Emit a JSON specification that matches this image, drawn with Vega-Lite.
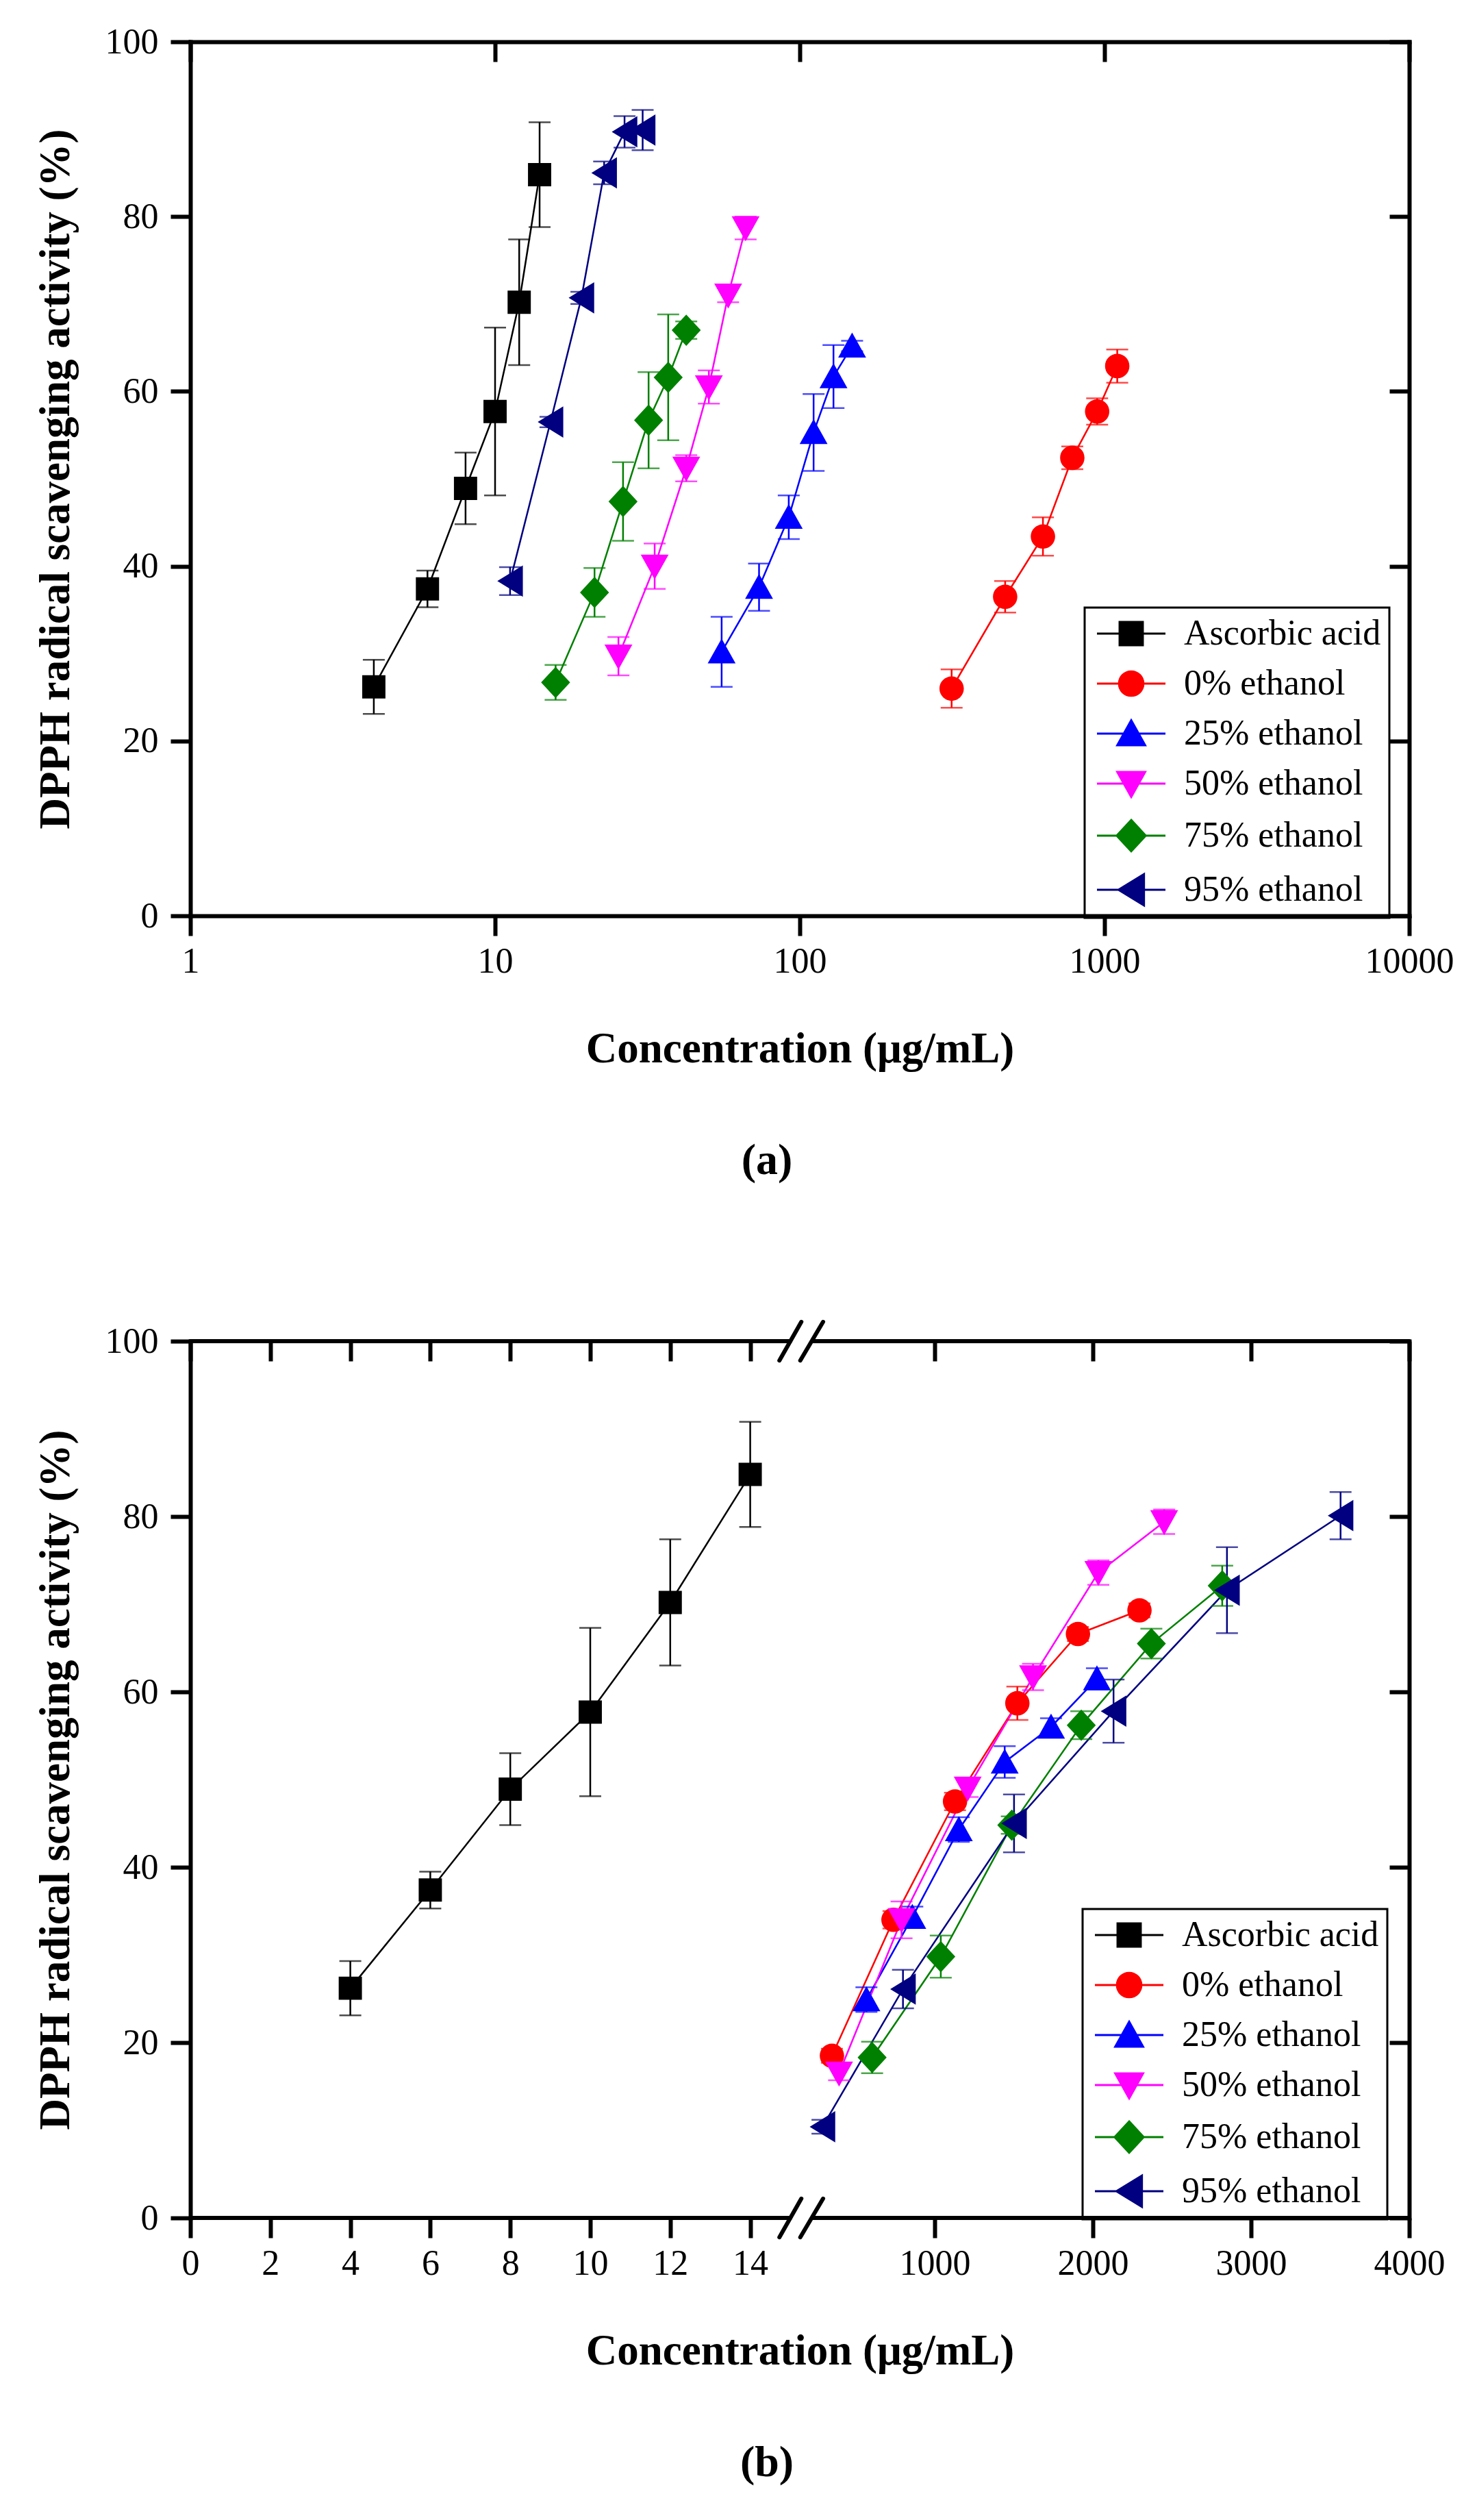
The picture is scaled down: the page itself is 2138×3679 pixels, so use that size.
{
  "$schema": "https://vega.github.io/schema/vega-lite/v6.json",
  "description": "DPPH radical scavenging activity of ascorbic acid and ethanol extracts, log and broken-axis views.",
  "padding": {"left": 50, "top": 35, "right": 10, "bottom": 10},
  "background": "white",
  "datasets": {
    "a": [
      {"s": "Ascorbic acid", "x": 4, "y": 26.2, "lo": 23.1, "hi": 29.3},
      {"s": "Ascorbic acid", "x": 6, "y": 37.4, "lo": 35.3, "hi": 39.5},
      {"s": "Ascorbic acid", "x": 8, "y": 48.9, "lo": 44.8, "hi": 53.0},
      {"s": "Ascorbic acid", "x": 10, "y": 57.7, "lo": 48.1, "hi": 67.3},
      {"s": "Ascorbic acid", "x": 12, "y": 70.2, "lo": 63.0, "hi": 77.4},
      {"s": "Ascorbic acid", "x": 14, "y": 84.8, "lo": 78.8, "hi": 90.8},
      {"s": "0% ethanol", "x": 315, "y": 26.0, "lo": 23.8, "hi": 28.2},
      {"s": "0% ethanol", "x": 472, "y": 36.5, "lo": 34.7, "hi": 38.3},
      {"s": "0% ethanol", "x": 628, "y": 43.4, "lo": 41.2, "hi": 45.6},
      {"s": "0% ethanol", "x": 784, "y": 52.4, "lo": 51.1, "hi": 53.7},
      {"s": "0% ethanol", "x": 946, "y": 57.7, "lo": 56.2, "hi": 59.2},
      {"s": "0% ethanol", "x": 1101, "y": 62.9, "lo": 61.0, "hi": 64.8},
      {"s": "25% ethanol", "x": 55.4, "y": 30.2, "lo": 26.2, "hi": 34.2},
      {"s": "25% ethanol", "x": 73.5, "y": 37.6, "lo": 34.9, "hi": 40.3},
      {"s": "25% ethanol", "x": 92, "y": 45.6, "lo": 43.1, "hi": 48.1},
      {"s": "25% ethanol", "x": 111, "y": 55.3, "lo": 50.9, "hi": 59.7},
      {"s": "25% ethanol", "x": 129, "y": 61.7, "lo": 58.1, "hi": 65.3},
      {"s": "25% ethanol", "x": 148.5, "y": 65.2, "lo": 64.6, "hi": 65.8},
      {"s": "50% ethanol", "x": 25.4, "y": 29.7, "lo": 27.5, "hi": 31.9},
      {"s": "50% ethanol", "x": 33.4, "y": 40.0, "lo": 37.4, "hi": 42.6},
      {"s": "50% ethanol", "x": 42.4, "y": 51.2, "lo": 49.7, "hi": 52.7},
      {"s": "50% ethanol", "x": 50.3, "y": 60.5, "lo": 58.6, "hi": 62.4},
      {"s": "50% ethanol", "x": 58.2, "y": 71.0, "lo": 70.2, "hi": 71.8},
      {"s": "50% ethanol", "x": 66.4, "y": 78.7, "lo": 77.4, "hi": 80.0},
      {"s": "75% ethanol", "x": 15.8, "y": 26.7, "lo": 24.7, "hi": 28.7},
      {"s": "75% ethanol", "x": 21.2, "y": 37.0, "lo": 34.2, "hi": 39.8},
      {"s": "75% ethanol", "x": 26.3, "y": 47.4, "lo": 42.9, "hi": 51.9},
      {"s": "75% ethanol", "x": 31.9, "y": 56.7, "lo": 51.2, "hi": 62.2},
      {"s": "75% ethanol", "x": 37.0, "y": 61.6, "lo": 54.4, "hi": 68.8},
      {"s": "75% ethanol", "x": 42.4, "y": 67.0, "lo": 66.0, "hi": 68.0},
      {"s": "95% ethanol", "x": 11.2, "y": 38.3, "lo": 36.7, "hi": 39.9},
      {"s": "95% ethanol", "x": 15.2, "y": 56.5, "lo": 55.9, "hi": 57.1},
      {"s": "95% ethanol", "x": 19.2, "y": 70.7, "lo": 70.0, "hi": 71.4},
      {"s": "95% ethanol", "x": 22.8, "y": 85.0, "lo": 83.7, "hi": 86.3},
      {"s": "95% ethanol", "x": 26.6, "y": 89.7, "lo": 87.9, "hi": 91.5},
      {"s": "95% ethanol", "x": 30.5, "y": 89.9, "lo": 87.6, "hi": 92.2}
    ],
    "b": [
      {"s": "Ascorbic acid", "x": 4, "y": 26.2, "lo": 23.1, "hi": 29.3},
      {"s": "Ascorbic acid", "x": 6, "y": 37.4, "lo": 35.3, "hi": 39.5},
      {"s": "Ascorbic acid", "x": 8, "y": 48.9, "lo": 44.8, "hi": 53.0},
      {"s": "Ascorbic acid", "x": 10, "y": 57.7, "lo": 48.1, "hi": 67.3},
      {"s": "Ascorbic acid", "x": 12, "y": 70.2, "lo": 63.0, "hi": 77.4},
      {"s": "Ascorbic acid", "x": 14, "y": 84.8, "lo": 78.8, "hi": 90.8},
      {"s": "0% ethanol", "x": 351, "y": 18.5, "lo": 17.7, "hi": 19.3},
      {"s": "0% ethanol", "x": 740, "y": 34.0, "lo": 33.0, "hi": 35.0},
      {"s": "0% ethanol", "x": 1129, "y": 47.5, "lo": 46.5, "hi": 48.5},
      {"s": "0% ethanol", "x": 1523, "y": 58.7, "lo": 56.8, "hi": 60.6},
      {"s": "0% ethanol", "x": 1906, "y": 66.6, "lo": 65.8, "hi": 67.4},
      {"s": "0% ethanol", "x": 2295, "y": 69.3, "lo": 68.5, "hi": 70.1},
      {"s": "25% ethanol", "x": 569, "y": 24.9, "lo": 23.5, "hi": 26.3},
      {"s": "25% ethanol", "x": 859, "y": 34.3, "lo": 33.1, "hi": 35.5},
      {"s": "25% ethanol", "x": 1153, "y": 44.3, "lo": 42.9, "hi": 45.7},
      {"s": "25% ethanol", "x": 1443, "y": 52.0, "lo": 50.2, "hi": 53.8},
      {"s": "25% ethanol", "x": 1736, "y": 56.0, "lo": 55.0, "hi": 57.0},
      {"s": "25% ethanol", "x": 2026, "y": 61.5, "lo": 60.3, "hi": 62.7},
      {"s": "50% ethanol", "x": 396, "y": 16.5, "lo": 15.7, "hi": 17.3},
      {"s": "50% ethanol", "x": 791, "y": 34.0, "lo": 31.9, "hi": 36.1},
      {"s": "50% ethanol", "x": 1209, "y": 49.0, "lo": 48.0, "hi": 50.0},
      {"s": "50% ethanol", "x": 1622, "y": 61.7, "lo": 60.2, "hi": 63.2},
      {"s": "50% ethanol", "x": 2035, "y": 73.6, "lo": 72.2, "hi": 75.0},
      {"s": "50% ethanol", "x": 2451, "y": 79.4, "lo": 78.0, "hi": 80.8},
      {"s": "75% ethanol", "x": 605, "y": 18.3, "lo": 16.5, "hi": 20.1},
      {"s": "75% ethanol", "x": 1039, "y": 29.8, "lo": 27.4, "hi": 32.2},
      {"s": "75% ethanol", "x": 1488, "y": 44.8, "lo": 43.8, "hi": 45.8},
      {"s": "75% ethanol", "x": 1927, "y": 56.2, "lo": 54.6, "hi": 57.8},
      {"s": "75% ethanol", "x": 2370, "y": 65.5, "lo": 63.8, "hi": 67.2},
      {"s": "75% ethanol", "x": 2818, "y": 72.1, "lo": 69.8, "hi": 74.4},
      {"s": "95% ethanol", "x": 291, "y": 10.4, "lo": 9.6, "hi": 11.2},
      {"s": "95% ethanol", "x": 800, "y": 26.1, "lo": 23.9, "hi": 28.3},
      {"s": "95% ethanol", "x": 1502, "y": 45.0, "lo": 41.7, "hi": 48.3},
      {"s": "95% ethanol", "x": 2131, "y": 57.8, "lo": 54.2, "hi": 61.4},
      {"s": "95% ethanol", "x": 2848, "y": 71.6, "lo": 66.7, "hi": 76.5},
      {"s": "95% ethanol", "x": 3566, "y": 80.1, "lo": 77.4, "hi": 82.8}
    ],
    "brk": [
      {"x": 0, "x2": 15, "y": 0, "y2": 0},
      {"x": 230, "x2": 4000, "y": 0, "y2": 0},
      {"x": 0, "x2": 15, "y": 100, "y2": 100},
      {"x": 230, "x2": 4000, "y": 100, "y2": 100},
      {"x": 14.73, "x2": 121, "y": -2.2, "y2": 2.2},
      {"x": 110.8, "x2": 295, "y": -2.2, "y2": 2.2},
      {"x": 14.73, "x2": 121, "y": 97.8, "y2": 102.2},
      {"x": 110.8, "x2": 295, "y": 97.8, "y2": 102.2}
    ]
  },
  "vconcat": [
    {
      "width": 1780,
      "height": 1276,
      "data": {"name": "a"},
      "title": {"text": "(a)", "orient": "bottom", "offset": 100, "frame": "group", "dx": -48},
      "layer": [
        {
          "mark": {"type": "line", "strokeWidth": 2.5},
          "encoding": {
            "x": {"field": "x", "type": "quantitative", "scale": {"type": "log", "domain": [1, 10000], "nice": false}, "axis": null},
            "y": {"field": "y", "type": "quantitative", "scale": {"domain": [0, 100], "nice": false}, "axis": null},
            "color": {"field": "s", "type": "nominal",
              "scale": {"domain": ["Ascorbic acid", "0% ethanol", "25% ethanol", "50% ethanol", "75% ethanol", "95% ethanol"],
                        "range": ["#000000", "#ff0000", "#0000ff", "#ff00ff", "#008000", "#000080"]}}
          }
        },
        {
          "mark": {"type": "errorbar", "ticks": {"size": 32}, "thickness": 2.5},
          "encoding": {
            "x": {"field": "x", "type": "quantitative", "scale": {"type": "log", "domain": [1, 10000], "nice": false}, "axis": null},
            "y": {"field": "lo", "type": "quantitative", "scale": {"domain": [0, 100], "nice": false}, "axis": null},
            "y2": {"field": "hi"},
            "color": {"field": "s", "type": "nominal",
              "scale": {"domain": ["Ascorbic acid", "0% ethanol", "25% ethanol", "50% ethanol", "75% ethanol", "95% ethanol"],
                        "range": ["#000000", "#ff0000", "#0000ff", "#ff00ff", "#008000", "#000080"]}}
          }
        },
        {
          "mark": {"type": "point", "filled": true, "opacity": 1, "size": 1150},
          "encoding": {
            "x": {"field": "x", "type": "quantitative", "scale": {"type": "log", "domain": [1, 10000], "nice": false},
                  "axis": {"orient": "bottom", "values": [1, 10, 100, 1000, 10000], "format": "d", "title": "Concentration (μg/mL)", "labelPadding": 12, "titlePadding": 71}},
            "y": {"field": "y", "type": "quantitative", "scale": {"domain": [0, 100], "nice": false},
                  "axis": {"orient": "left", "values": [0, 20, 40, 60, 80, 100], "format": "d", "title": "DPPH radical scavenging activity (%)", "labelPadding": 18, "titlePadding": 40}},
            "color": {"field": "s", "type": "nominal",
              "scale": {"domain": ["Ascorbic acid", "0% ethanol", "25% ethanol", "50% ethanol", "75% ethanol", "95% ethanol"],
                        "range": ["#000000", "#ff0000", "#0000ff", "#ff00ff", "#008000", "#000080"]},
              "legend": {"title": null, "orient": "none", "legendX": 1306, "legendY": 826,
                "encoding": {
                  "symbols": {
                    "stroke": {"value": {"expr": "datum.value === 'Ascorbic acid' ? '#000000' : datum.value === '0% ethanol' ? '#ff0000' : datum.value === '25% ethanol' ? '#0000ff' : datum.value === '50% ethanol' ? '#ff00ff' : datum.value === '75% ethanol' ? '#008000' : '#000080'"}},
                    "strokeWidth": {"value": 3}
                  },
                  "legend": {"strokeWidth": {"value": 3}}
                }}},
            "shape": {"field": "s", "type": "nominal",
              "scale": {"domain": ["Ascorbic acid", "0% ethanol", "25% ethanol", "50% ethanol", "75% ethanol", "95% ethanol"],
                        "range": ["M-1,-1H1V1H-1ZM-2.95,0H2.95",
                                  "M-1.05,0A1.05,1.05,0,1,1,1.05,0A1.05,1.05,0,1,1,-1.05,0ZM-2.95,0H2.95",
                                  "M0,-1.15L1.2,1H-1.2ZM-2.95,0H2.95",
                                  "M0,1.15L1.2,-1H-1.2ZM-2.95,0H2.95",
                                  "M0,-1.35L1.25,0L0,1.35L-1.25,0ZM-2.95,0H2.95",
                                  "M-1.1,0L1.1,-1.35V1.35ZM-2.95,0H2.95"]}}
          }
        },
        {
          "mark": {"type": "point", "opacity": 0},
          "encoding": {
            "x": {"field": "x", "type": "quantitative", "scale": {"type": "log", "domain": [1, 10000], "nice": false},
                  "axis": {"orient": "top", "values": [1, 10, 100, 1000, 10000], "labels": false, "tickSize": -29, "title": null}},
            "y": {"field": "y", "type": "quantitative", "scale": {"domain": [0, 100], "nice": false},
                  "axis": {"orient": "right", "values": [0, 20, 40, 60, 80, 100], "labels": false, "tickSize": -29, "title": null}}
          }
        }
      ]
    },
    {
      "width": 1780,
      "height": 1280,
      "data": {"name": "b"},
      "title": {"text": "(b)", "orient": "bottom", "offset": 100, "frame": "group", "dx": -48},
      "layer": [
        {
          "data": {"name": "brk"},
          "mark": {"type": "rule", "strokeWidth": 6, "strokeCap": "round", "color": "black"},
          "encoding": {
            "x": {"field": "x", "type": "quantitative", "scale": {"type": "linear", "domain": [0, 15, 230, 4000], "range": [0, 876, 909, 1780], "nice": false, "zero": false}, "axis": null},
            "x2": {"field": "x2"},
            "y": {"field": "y", "type": "quantitative", "scale": {"domain": [0, 100], "nice": false}, "axis": null},
            "y2": {"field": "y2"}
          }
        },
        {
          "mark": {"type": "line", "strokeWidth": 2.5},
          "encoding": {
            "x": {"field": "x", "type": "quantitative", "scale": {"type": "linear", "domain": [0, 15, 230, 4000], "range": [0, 876, 909, 1780], "nice": false, "zero": false}, "axis": null},
            "y": {"field": "y", "type": "quantitative", "scale": {"domain": [0, 100], "nice": false}, "axis": null},
            "color": {"field": "s", "type": "nominal",
              "scale": {"domain": ["Ascorbic acid", "0% ethanol", "25% ethanol", "50% ethanol", "75% ethanol", "95% ethanol"],
                        "range": ["#000000", "#ff0000", "#0000ff", "#ff00ff", "#008000", "#000080"]}}
          }
        },
        {
          "mark": {"type": "errorbar", "ticks": {"size": 32}, "thickness": 2.5},
          "encoding": {
            "x": {"field": "x", "type": "quantitative", "scale": {"type": "linear", "domain": [0, 15, 230, 4000], "range": [0, 876, 909, 1780], "nice": false, "zero": false}, "axis": null},
            "y": {"field": "lo", "type": "quantitative", "scale": {"domain": [0, 100], "nice": false}, "axis": null},
            "y2": {"field": "hi"},
            "color": {"field": "s", "type": "nominal",
              "scale": {"domain": ["Ascorbic acid", "0% ethanol", "25% ethanol", "50% ethanol", "75% ethanol", "95% ethanol"],
                        "range": ["#000000", "#ff0000", "#0000ff", "#ff00ff", "#008000", "#000080"]}}
          }
        },
        {
          "mark": {"type": "point", "filled": true, "opacity": 1, "size": 1150},
          "encoding": {
            "x": {"field": "x", "type": "quantitative", "scale": {"type": "linear", "domain": [0, 15, 230, 4000], "range": [0, 876, 909, 1780], "nice": false, "zero": false},
                  "axis": {"orient": "bottom", "values": [0, 2, 4, 6, 8, 10, 12, 14, 1000, 2000, 3000, 4000], "format": "d", "domain": false, "title": "Concentration (μg/mL)", "labelPadding": 12, "titlePadding": 71}},
            "y": {"field": "y", "type": "quantitative", "scale": {"domain": [0, 100], "nice": false},
                  "axis": {"orient": "left", "values": [0, 20, 40, 60, 80, 100], "format": "d", "title": "DPPH radical scavenging activity (%)", "labelPadding": 18, "titlePadding": 40}},
            "color": {"field": "s", "type": "nominal",
              "scale": {"domain": ["Ascorbic acid", "0% ethanol", "25% ethanol", "50% ethanol", "75% ethanol", "95% ethanol"],
                        "range": ["#000000", "#ff0000", "#0000ff", "#ff00ff", "#008000", "#000080"]},
              "legend": {"title": null, "orient": "none", "legendX": 1303, "legendY": 829,
                "encoding": {
                  "symbols": {
                    "stroke": {"value": {"expr": "datum.value === 'Ascorbic acid' ? '#000000' : datum.value === '0% ethanol' ? '#ff0000' : datum.value === '25% ethanol' ? '#0000ff' : datum.value === '50% ethanol' ? '#ff00ff' : datum.value === '75% ethanol' ? '#008000' : '#000080'"}},
                    "strokeWidth": {"value": 3}
                  },
                  "legend": {"strokeWidth": {"value": 3}}
                }}},
            "shape": {"field": "s", "type": "nominal",
              "scale": {"domain": ["Ascorbic acid", "0% ethanol", "25% ethanol", "50% ethanol", "75% ethanol", "95% ethanol"],
                        "range": ["M-1,-1H1V1H-1ZM-2.95,0H2.95",
                                  "M-1.05,0A1.05,1.05,0,1,1,1.05,0A1.05,1.05,0,1,1,-1.05,0ZM-2.95,0H2.95",
                                  "M0,-1.15L1.2,1H-1.2ZM-2.95,0H2.95",
                                  "M0,1.15L1.2,-1H-1.2ZM-2.95,0H2.95",
                                  "M0,-1.35L1.25,0L0,1.35L-1.25,0ZM-2.95,0H2.95",
                                  "M-1.1,0L1.1,-1.35V1.35ZM-2.95,0H2.95"]}}
          }
        },
        {
          "mark": {"type": "point", "opacity": 0},
          "encoding": {
            "x": {"field": "x", "type": "quantitative", "scale": {"type": "linear", "domain": [0, 15, 230, 4000], "range": [0, 876, 909, 1780], "nice": false, "zero": false},
                  "axis": {"orient": "top", "values": [0, 2, 4, 6, 8, 10, 12, 14, 1000, 2000, 3000, 4000], "labels": false, "domain": false, "tickSize": -29, "title": null}},
            "y": {"field": "y", "type": "quantitative", "scale": {"domain": [0, 100], "nice": false},
                  "axis": {"orient": "right", "values": [0, 20, 40, 60, 80, 100], "labels": false, "tickSize": -29, "title": null}}
          }
        }
      ]
    }
  ],
  "spacing": 199,
  "resolve": {"scale": {"color": "independent", "shape": "independent"}},
  "config": {
    "font": "Liberation Serif",
    "view": {"stroke": null},
    "axis": {
      "grid": false,
      "domainColor": "black",
      "domainWidth": 6,
      "domainCap": "square",
      "tickColor": "black",
      "tickWidth": 6,
      "tickSize": 29,
      "labelFont": "Liberation Serif",
      "labelFontSize": 52,
      "labelColor": "black",
      "labelFlush": false,
      "labelOverlap": false,
      "titleFont": "Liberation Serif",
      "titleFontSize": 63,
      "titleFontWeight": "bold",
      "titleColor": "black"
    },
    "legend": {
      "strokeColor": "black",
      "padding": 12,
      "symbolOffset": 30,
      "labelOffset": 51,
      "labelFont": "Liberation Serif",
      "labelFontSize": 52,
      "labelColor": "black",
      "labelLimit": 0,
      "symbolSize": 1150,
      "rowPadding": 21
    },
    "title": {"font": "Liberation Serif", "fontSize": 64, "fontWeight": "bold", "color": "black"}
  }
}
